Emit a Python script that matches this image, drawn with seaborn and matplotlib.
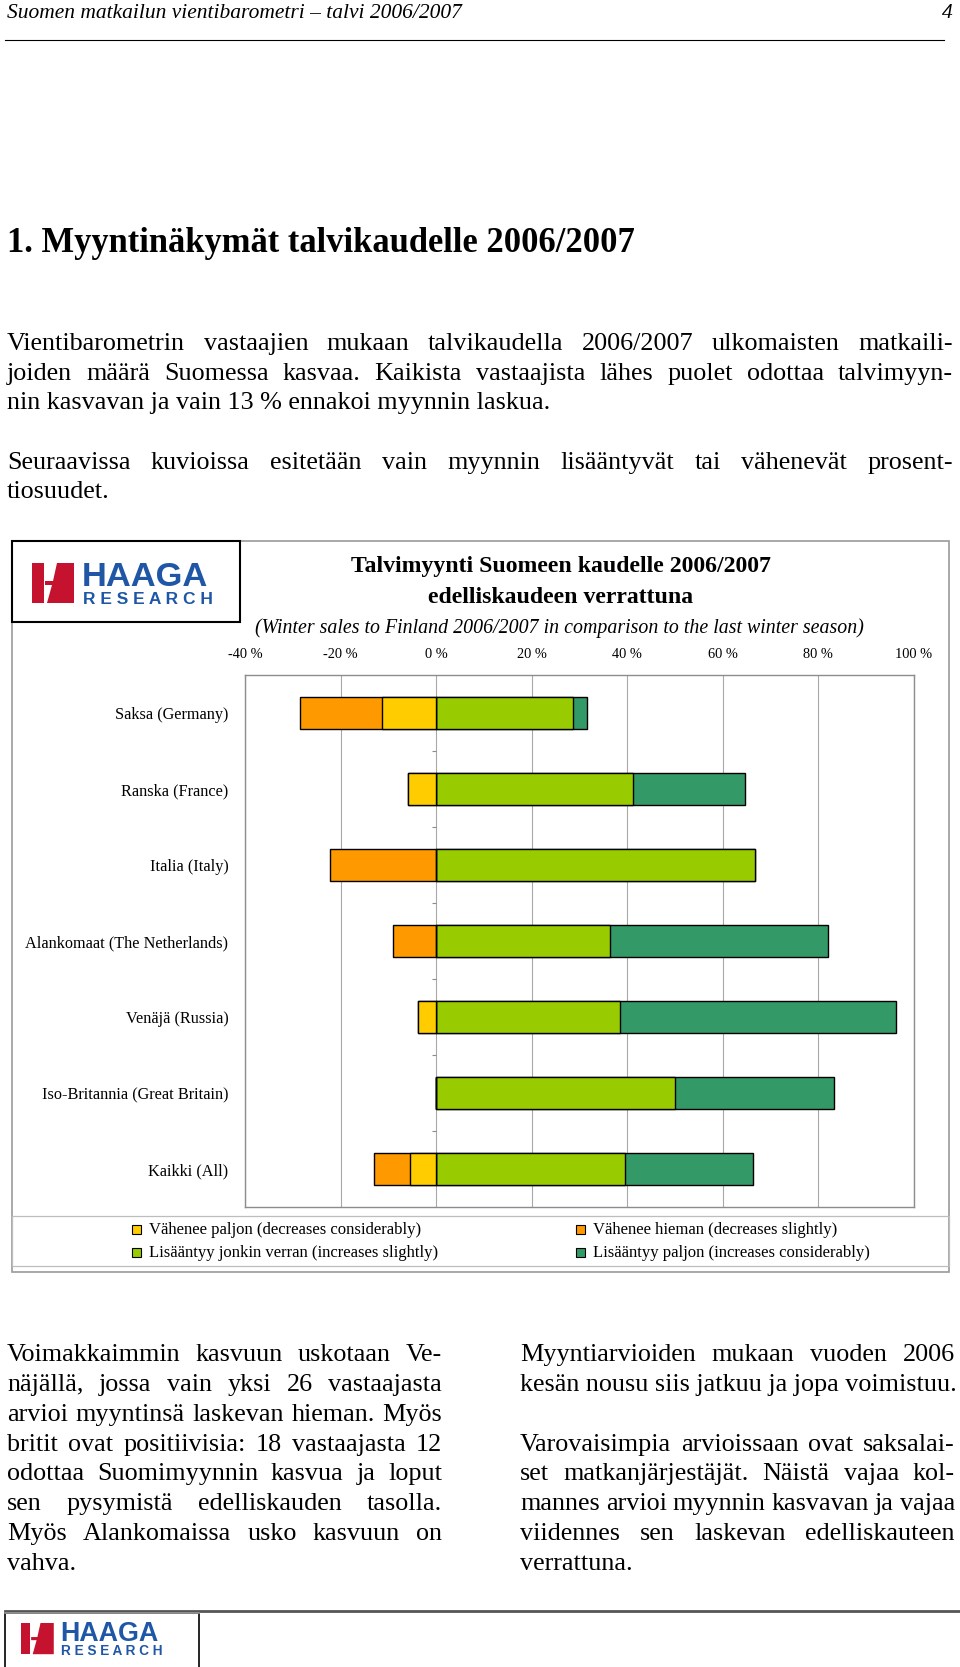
import matplotlib
matplotlib.use('Agg')
import matplotlib.pyplot as plt
import seaborn as sns
import pandas as pd
from matplotlib.patches import Rectangle, Polygon
from matplotlib.lines import Line2D

# ---- data ----
categories = ['Saksa (Germany)', 'Ranska (France)', 'Italia (Italy)',
              'Alankomaat (The Netherlands)', 'Venäjä (Russia)',
              'Iso-Britannia (Great Britain)', 'Kaikki (All)']
dec_much = [11.4, 5.9, 0.0, 0.0, 3.8, 0.0, 5.4]       # Vähenee paljon
dec_slight = [17.1, 0.0, 22.2, 9.1, 0.0, 0.0, 7.5]    # Vähenee hieman
inc_slight = [28.6, 41.2, 66.7, 36.4, 38.5, 50.0, 39.6]  # Lisääntyy jonkin verran
inc_much = [2.9, 23.5, 0.0, 45.5, 57.7, 33.3, 26.7]   # Lisääntyy paljon
xticks = [-40, -20, 0, 20, 40, 60, 80, 100]
series_labels = ['Vähenee paljon (decreases considerably)',
                 'Vähenee hieman (decreases slightly)',
                 'Lisääntyy jonkin verran (increases slightly)',
                 'Lisääntyy paljon (increases considerably)']
series_colors = ['#FFCC00', '#FF9900', '#99CC00', '#339966']

W, H = 960, 1667
SERIF = 'Liberation Serif'
SANS = 'Liberation Sans'

fig = plt.figure(figsize=(W / 100, H / 100), dpi=100)
fig.patch.set_facecolor('white')
renderer = fig.canvas.get_renderer()


def fx(x):
    return x / W


def fy(y):
    return 1 - y / H


def put(x, y, s, size, ha='left', va='baseline', family=SERIF, **kw):
    return fig.text(fx(x), fy(y), s, fontsize=size, ha=ha, va=va, family=family, **kw)


def fit(s, width, family=SERIF, **kw):
    t = fig.text(0, 0, s, fontsize=10, family=family, **kw)
    w = t.get_window_extent(renderer).width
    t.remove()
    return 10 * width / w


def justify(line, x0, x1, y, size, last=False):
    if last:
        put(x0, y, line, size)
        return
    words = line.split()
    ts = [put(x0, y, w, size) for w in words]
    widths = [t.get_window_extent(renderer).width for t in ts]
    gap = (x1 - x0 - sum(widths)) / (len(words) - 1)
    x = x0
    for t, w in zip(ts, widths):
        t.set_x(fx(x))
        x += w + gap


def box(x0, y0, x1, y1, color, lw=1.0, fill=None, z=1):
    fig.add_artist(Rectangle((fx(x0), fy(y1)), fx(x1) - fx(x0), fy(y0) - fy(y1),
                             facecolor=fill if fill else 'none', edgecolor=color,
                             lw=lw, zorder=z))


def hline(x0, x1, y, color='black', lw=1.0):
    fig.add_artist(Line2D([fx(x0), fx(x1)], [fy(y), fy(y)], color=color, lw=lw))


def logo(x, y, s):
    # s: scale, (x, y) top left of red mark in px
    red, blue = '#C4122F', '#1F56A6'
    fig.add_artist(Polygon([(fx(x), fy(y)), (fx(x + 12 * s), fy(y)),
                            (fx(x + 12 * s), fy(y + 40 * s)), (fx(x), fy(y + 40 * s))],
                           closed=True, facecolor=red, edgecolor='none', zorder=4))
    fig.add_artist(Polygon([(fx(x + 25 * s), fy(y)), (fx(x + 42 * s), fy(y)),
                            (fx(x + 42 * s), fy(y + 40 * s)), (fx(x + 15 * s), fy(y + 40 * s)),
                            (fx(x + 20 * s), fy(y + 22 * s)), (fx(x + 13 * s), fy(y + 22 * s)),
                            (fx(x + 13 * s), fy(y + 18 * s)), (fx(x + 21 * s), fy(y + 18 * s))],
                           closed=True, facecolor=red, edgecolor='none', zorder=4))
    hs = fit('HAAGA', 126 * s, family=SANS, weight='bold')
    put(x + 50 * s, y + 23 * s, 'HAAGA', hs, family=SANS, weight='bold', color=blue, zorder=4)
    rs = fit('R E S E A R C H', 130 * s, family=SANS, weight='bold')
    put(x + 51 * s, y + 41 * s, 'R E S E A R C H', rs, family=SANS, weight='bold',
        color=blue, zorder=4)


# ---- page header ----
hs = fit('Suomen matkailun vientibarometri – talvi 2006/2007', 458, style='italic')
put(7, 18, 'Suomen matkailun vientibarometri – talvi 2006/2007', hs, style='italic')
put(953, 18, '4', hs, ha='right', style='italic')
hline(5, 944, 40, lw=0.8)

# ---- heading ----
head = '1. Myyntinäkymät talvikaudelle 2006/2007'
put(7, 252, head, fit(head, 629, weight='bold'), weight='bold')

# ---- intro paragraphs ----
bs = fit('nin kasvavan ja vain 13 % ennakoi myynnin laskua.', 546)
off = 0.3 * bs * 100 / 72
p1 = ['Vientibarometrin vastaajien mukaan talvikaudella 2006/2007 ulkomaisten matkaili-',
      'joiden määrä Suomessa kasvaa. Kaikista vastaajista lähes puolet odottaa talvimyyn-',
      'nin kasvavan ja vain 13 % ennakoi myynnin laskua.']
for i, (line, yc) in enumerate(zip(p1, [342, 372, 401])):
    justify(line, 7, 953, yc + off, bs, last=(i == len(p1) - 1))
p2 = ['Seuraavissa kuvioissa esitetään vain myynnin lisääntyvät tai vähenevät prosent-',
      'tiosuudet.']
for i, (line, yc) in enumerate(zip(p2, [461, 490])):
    justify(line, 7, 953, yc + off, bs, last=(i == len(p2) - 1))

# ---- chart frame ----
box(12, 541, 949, 1272, '#9A9A9A', lw=1.2)
box(12, 1216, 949, 1266, '#BDBDBD', lw=0.9)
box(12, 541, 240, 622, 'black', lw=1.5, fill='white', z=2)
logo(32, 563, 1.0)

t1 = 'Talvimyynti Suomeen kaudelle 2006/2007'
ts = fit(t1, 422, weight='bold')
put(561, 572, t1, ts, ha='center', weight='bold')
put(561, 603, 'edelliskaudeen verrattuna', ts, ha='center', weight='bold')
sub = '(Winter sales to Finland 2006/2007 in comparison to the last winter season)'
put(559, 633, sub, fit(sub, 608, style='italic'), ha='center', style='italic')

# ---- bar chart ----
df = pd.DataFrame({'category': categories, 'dec_much': dec_much, 'dec_slight': dec_slight,
                   'inc_slight': inc_slight, 'inc_much': inc_much})
df['neg_total'] = -(df['dec_much'] + df['dec_slight'])
df['neg_inner'] = -df['dec_much']
df['pos_total'] = df['inc_slight'] + df['inc_much']

ax = fig.add_axes([fx(245), fy(1207), fx(914) - fx(245), fy(675) - fy(1207)])
ax.set_axisbelow(True)
bar_kw = dict(data=df, y='category', order=categories, orient='h', width=0.41,
              edgecolor='black', linewidth=1.0, ax=ax, zorder=3)
sns.barplot(x='pos_total', color=series_colors[3], saturation=1, **bar_kw)
sns.barplot(x='inc_slight', color=series_colors[2], saturation=1, **bar_kw)
sns.barplot(x='neg_total', color=series_colors[1], saturation=1, **bar_kw)
sns.barplot(x='neg_inner', color=series_colors[0], saturation=1, **bar_kw)

ax.set_xlim(-40, 100)
ax.set_ylim(len(categories) - 0.5, -0.5)
ax.set_xticks(xticks)
ax.set_xticklabels([f'{v} %' for v in xticks], family=SERIF)
ax.xaxis.tick_top()
ax.tick_params(axis='x', length=0, pad=10, labelsize=fit('100 %', 37))
ax.tick_params(axis='y', length=0, pad=12, labelsize=fit('Alankomaat (The Netherlands)', 203))
for lab in ax.get_yticklabels():
    lab.set_family(SERIF)
ax.set_xlabel('')
ax.set_ylabel('')
ax.grid(axis='x', color='#A8A8A8', lw=0.8)
ax.grid(axis='y', visible=False)
for sp in ax.spines.values():
    sp.set_color('#8C8C8C')
    sp.set_linewidth(1.0)
# category axis tick marks at zero
ax.hlines([i + 0.5 for i in range(len(categories) - 1)], -0.8, 0, color='#8C8C8C', lw=0.8)

# ---- legend ----
ls = fit(series_labels[3], 277)
for i, (lab, col) in enumerate(zip(series_labels, series_colors)):
    xm = 132 if i % 2 == 0 else 576
    yc = 1229 if i < 2 else 1252
    box(xm, yc - 4.5, xm + 9, yc + 4.5, 'black', lw=0.8, fill=col, z=3)
    put(xm + 17, yc + 5, lab, ls)

# ---- two text columns ----
left_col = ['Voimakkaimmin kasvuun uskotaan Ve-',
            'näjällä, jossa vain yksi 26 vastaajasta',
            'arvioi myyntinsä laskevan hieman. Myös',
            'britit ovat positiivisia: 18 vastaajasta 12',
            'odottaa Suomimyynnin kasvua ja loput',
            'sen pysymistä edelliskauden tasolla.',
            'Myös Alankomaissa usko kasvuun on',
            'vahva.']
for i, line in enumerate(left_col):
    justify(line, 7, 442, 1353 + 29.9 * i + off, bs, last=(i == len(left_col) - 1))

right_p1 = ['Myyntiarvioiden mukaan vuoden 2006',
            'kesän nousu siis jatkuu ja jopa voimistuu.']
for i, line in enumerate(right_p1):
    justify(line, 520, 955, 1353 + 29.9 * i + off, bs, last=(i == len(right_p1) - 1))
right_p2 = ['Varovaisimpia arvioissaan ovat saksalai-',
            'set matkanjärjestäjät. Näistä vajaa kol-',
            'mannes arvioi myynnin kasvavan ja vajaa',
            'viidennes sen laskevan edelliskauteen',
            'verrattuna.']
for i, line in enumerate(right_p2):
    justify(line, 520, 955, 1353 + 29.9 * (i + 3) + off, bs, last=(i == len(right_p2) - 1))

# ---- footer ----
hline(5, 960, 1611, color='#555555', lw=2.0)
box(5, 1613, 199, 1680, 'black', lw=1.2)
hline(5, 199, 1613, color='#9A9A9A', lw=1.2)
logo(21, 1623, 0.78)

fig.savefig('out.png', dpi=100, facecolor='white')
